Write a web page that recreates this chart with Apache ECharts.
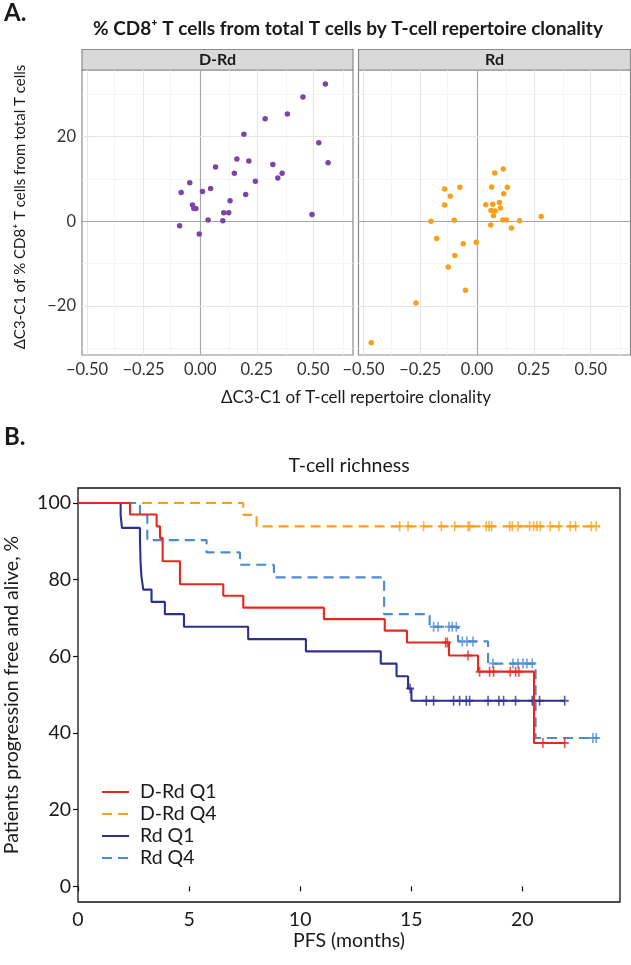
<!DOCTYPE html>
<html>
<head>
<meta charset="utf-8">
<script src="https://cdn.jsdelivr.net/npm/echarts@6/dist/echarts.min.js"></script>
<style>
html,body{margin:0;padding:0;background:#fff;}
#chart{width:631px;height:965px;}
</style>
</head>
<body>
<div id="chart"></div>
<script>
// ---------- Panel A data ----------
const facetNames = ['D-Rd', 'Rd'];
const dRdX = [0.553, 0.454, 0.385, 0.287, 0.193, 0.524, 0.565, 0.162, 0.215, 0.321, 0.068, 0.151, 0.362, 0.343, -0.046, 0.244, 0.046, -0.084, 0.010, 0.201, 0.132, -0.034, -0.028, -0.019, 0.104, 0.126, 0.494, 0.035, 0.100, -0.091, -0.004];
const dRdY = [32.4, 29.3, 25.3, 24.2, 20.5, 18.5, 13.8, 14.7, 14.2, 13.4, 12.8, 11.3, 11.3, 10.2, 9.1, 9.4, 7.7, 6.8, 7.0, 6.3, 4.8, 3.8, 3.0, 3.0, 2.0, 2.0, 1.6, 0.3, 0.1, -1.1, -3.0];
const rdX = [0.115, 0.077, -0.076, -0.143, 0.064, 0.133, 0.117, -0.118, 0.098, 0.038, 0.069, -0.143, 0.102, 0.061, 0.079, 0.072, 0.282, 0.113, 0.129, -0.203, -0.101, 0.187, 0.060, 0.151, -0.178, -0.004, -0.061, -0.098, -0.127, -0.051, -0.269, -0.466];
const rdY = [12.3, 11.4, 8.0, 7.6, 8.1, 8.0, 6.5, 5.9, 4.4, 3.9, 4.0, 3.8, 3.1, 2.5, 2.4, 1.3, 1.1, 0.3, 0.3, 0.0, 0.2, 0.1, -0.9, -1.6, -4.1, -5.0, -5.3, -8.1, -10.8, -16.3, -19.3, -28.7];
const aXTicks = [-0.5, -0.25, 0, 0.25, 0.5];
const aXMinor = [-0.375, -0.125, 0.125, 0.375, 0.625];
const aYTicks = [-20, 0, 20];
const aYMinor = [-30, -10, 10, 30];

// ---------- Panel B data (Kaplan-Meier) ----------
const kmNames = ['D-Rd Q1', 'D-Rd Q4', 'Rd Q1', 'Rd Q4'];
const drdQ1T = [0, 2.34, 3.54, 3.69, 3.81, 4.59, 6.54, 7.44, 11.07, 13.81, 14.81, 16.70, 18.01, 20.53, 21.91];
const drdQ1S = [100, 97.0, 93.9, 90.9, 84.8, 78.8, 75.8, 72.7, 69.7, 66.7, 63.6, 60.2, 56.0, 37.4, 37.4];
const drdQ1C = [16.55, 16.63, 17.56, 18.08, 18.53, 18.71, 19.46, 19.70, 19.85, 20.93, 21.91];
const drdQ4T = [0, 7.44, 8.04, 23.5];
const drdQ4S = [100, 96.9, 93.9, 93.9];
const drdQ4C = [14.48, 14.86, 15.56, 16.36, 16.96, 17.56, 17.63, 18.38, 18.50, 18.62, 19.43, 19.55, 19.81, 20.33, 20.51, 20.66, 20.81, 21.26, 21.65, 22.16, 22.40, 23.11, 23.33];
const rdQ1T = [0, 1.92, 1.98, 2.79, 2.82, 2.86, 2.94, 3.31, 3.91, 4.77, 7.66, 10.26, 13.63, 14.34, 14.86, 15.01, 21.91];
const rdQ1S = [100, 96.8, 93.5, 90.3, 83.9, 80.6, 77.4, 74.2, 71.0, 67.7, 64.5, 61.3, 58.1, 54.8, 51.6, 48.4, 48.4];
const rdQ1C = [14.95, 15.68, 16.01, 16.91, 17.18, 17.48, 17.63, 18.46, 18.95, 19.16, 19.70, 20.45, 20.78, 21.91];
const rdQ4T = [0, 2.79, 3.12, 5.79, 7.29, 8.82, 13.78, 15.83, 17.11, 18.46, 20.60, 23.4];
const rdQ4S = [100, 96.8, 90.3, 87.1, 83.9, 80.6, 71.0, 67.7, 63.9, 58.1, 38.7, 38.7];
const rdQ4C = [16.01, 16.21, 16.70, 16.85, 17.03, 17.30, 17.51, 17.78, 18.68, 19.58, 19.81, 20.03, 20.21, 20.45, 23.18, 23.33];
const kmXTicks = [0, 5, 10, 15, 20];
const kmYTicks = [0, 20, 40, 60, 80, 100];

const kmT = [drdQ1T, drdQ4T, rdQ1T, rdQ4T];
const kmS = [drdQ1S, drdQ4S, rdQ1S, rdQ4S];
const kmC = [drdQ1C, drdQ4C, rdQ1C, rdQ4C];
const kmColors = ['#e8281e', '#f7a01c', '#2e2f8f', '#4a8ad4'];
const kmDashed = [false, true, false, true];
const ptColors = ['#7b45a6', '#f7a01c'];

function stepAt(T, S, t) {
  let v = S[0];
  for (let i = 0; i < T.length; i++) { if (T[i] <= t) v = S[i]; }
  return v;
}
const minus = s => String(s).replace('-', '\u2212');
const FONT = 'Lato, "Noto Sans", sans-serif';

const chart = echarts.init(document.getElementById('chart'), null, {renderer: 'canvas'});

const aGrids = [
  {left: 82, top: 70, width: 271, height: 285},
  {left: 358.5, top: 70, width: 272, height: 285}
];
const grids = aGrids.map(g => Object.assign({show: true, borderColor: '#8a8a8a', borderWidth: 1.2, backgroundColor: '#fff'}, g));
grids.push({left: 78, top: 488, width: 542, height: 414, show: true, borderColor: '#111', borderWidth: 1.3, backgroundColor: 'rgba(0,0,0,0)'});

const xAxes = [], yAxes = [];
for (let i = 0; i < 2; i++) {
  xAxes.push({
    type: 'value', gridIndex: i, min: -0.522, max: 0.675,
    axisLine: {show: false}, splitLine: {show: false},
    axisTick: {show: true, customValues: aXTicks, length: 4, lineStyle: {color: '#444'}},
    axisLabel: {show: true, customValues: aXTicks, margin: 6, color: '#333', fontSize: 16.5, fontFamily: FONT,
      formatter: v => minus(v.toFixed(2))}
  });
  yAxes.push({
    type: 'value', gridIndex: i, min: -31.6, max: 35.7,
    axisLine: {show: false}, splitLine: {show: false},
    axisTick: {show: i === 0, customValues: aYTicks, length: 4, lineStyle: {color: '#444'}},
    axisLabel: {show: i === 0, customValues: aYTicks, margin: 6, color: '#333', fontSize: 16.5, fontFamily: FONT,
      formatter: v => minus(v)}
  });
}
xAxes.push({
  type: 'value', gridIndex: 2, min: 0, max: 24.4,
  axisLine: {show: false}, splitLine: {show: false},
  axisTick: {show: true, customValues: kmXTicks, length: 5, lineStyle: {color: '#111', width: 1.2}},
  axisLabel: {show: true, customValues: kmXTicks, margin: 8, color: '#1a1a1a', fontSize: 19.5, fontFamily: FONT}
});
yAxes.push({
  type: 'value', gridIndex: 2, min: -4.07, max: 103.9,
  axisLine: {show: false}, splitLine: {show: false},
  axisTick: {show: true, customValues: kmYTicks, length: 5, lineStyle: {color: '#111', width: 1.2}},
  axisLabel: {show: true, customValues: kmYTicks, margin: 7, color: '#1a1a1a', fontSize: 19.5, fontFamily: FONT}
});

const series = [];
// gridlines for panel A
for (let i = 0; i < 2; i++) {
  const ml = [];
  aXMinor.forEach(v => ml.push({xAxis: v, lineStyle: {color: '#f3f3f3', width: 0.8, type: 'solid'}}));
  aYMinor.forEach(v => ml.push({yAxis: v, lineStyle: {color: '#f3f3f3', width: 0.8, type: 'solid'}}));
  aXTicks.forEach(v => ml.push({xAxis: v, lineStyle: {color: v === 0 ? '#a8a8a8' : '#e6e6e6', width: v === 0 ? 1.2 : 1.1, type: 'solid'}}));
  aYTicks.forEach(v => ml.push({yAxis: v, lineStyle: {color: v === 0 ? '#a8a8a8' : '#e6e6e6', width: v === 0 ? 1.2 : 1.1, type: 'solid'}}));
  series.push({
    type: 'line', xAxisIndex: i, yAxisIndex: i, data: [], z: 1, silent: true,
    markLine: {silent: true, symbol: ['none', 'none'], label: {show: false}, animation: false, data: ml}
  });
}
// scatter points
const ptsX = [dRdX, rdX], ptsY = [dRdY, rdY];
for (let i = 0; i < 2; i++) {
  series.push({
    type: 'scatter', name: facetNames[i], xAxisIndex: i, yAxisIndex: i, z: 5,
    symbolSize: 5.5, itemStyle: {color: ptColors[i], opacity: 1},
    data: ptsX[i].map((x, k) => [x, ptsY[i][k]])
  });
}
// KM curves
const plusPath = 'path://M4,0H6V4H10V6H6V10H4V6H0V4H4Z';
for (let i = 0; i < 4; i++) {
  series.push({
    type: 'line', name: kmNames[i], xAxisIndex: 2, yAxisIndex: 2, step: 'end', showSymbol: false, symbol: 'none',
    z: 4 + (i === 0 ? 2 : 0),
    lineStyle: {color: kmColors[i], width: 2.1, type: kmDashed[i] ? [10, 6] : 'solid'},
    itemStyle: {color: kmColors[i]},
    data: kmT[i].map((t, k) => [t, kmS[i][k]])
  });
  series.push({
    type: 'scatter', name: kmNames[i] + ' censored', xAxisIndex: 2, yAxisIndex: 2, z: 4 + (i === 0 ? 2 : 0),
    symbol: plusPath, symbolSize: [8, 10],
    itemStyle: {color: kmColors[i]},
    data: kmC[i].map(t => [t, stepAt(kmT[i], kmS[i], t)])
  });
}

const txt = (text, x, y, font, extra, align) => Object.assign({
  type: 'text', x: x, y: y, silent: true,
  style: {text: text, font: font, fill: '#1a1a1a', align: align || 'center', verticalAlign: 'middle'}
}, extra || {});

const graphics = [
  txt('A.', 4, 13, 'bold 24px ' + FONT, null, 'left'),
  txt('% CD8\u207A T cells from total T cells by T-cell repertoire clonality', 348, 29, 'bold 19px ' + FONT),
  {type: 'rect', silent: true, shape: {x: 82, y: 49.5, width: 271, height: 20.5}, style: {fill: '#d9d9d9', stroke: '#8a8a8a', lineWidth: 1.2}},
  {type: 'rect', silent: true, shape: {x: 358.5, y: 49.5, width: 272, height: 20.5}, style: {fill: '#d9d9d9', stroke: '#8a8a8a', lineWidth: 1.2}},
  txt(facetNames[0], 217.5, 60, 'bold 16px ' + FONT),
  txt(facetNames[1], 494.5, 60, 'bold 16px ' + FONT),
  txt('\u0394C3-C1 of % CD8\u207A T cells from total T cells', 20, 207, '15px ' + FONT, {rotation: Math.PI / 2}),
  txt('\u0394C3-C1 of T-cell repertoire clonality', 356, 398, '17px ' + FONT),
  txt('B.', 4, 437, 'bold 24px ' + FONT, null, 'left'),
  txt('T-cell richness', 349, 466, '19.5px ' + FONT),
  txt('Patients progression free and alive, %', 12, 695, '19.5px ' + FONT, {rotation: Math.PI / 2}),
  txt('PFS (months)', 349, 941, '19.5px ' + FONT)
];

chart.setOption({
  animation: false,
  backgroundColor: '#fff',
  grid: grids,
  xAxis: xAxes,
  yAxis: yAxes,
  legend: {
    data: kmNames, orient: 'vertical', left: 96, top: 777, itemGap: 2,
    itemWidth: 27, itemHeight: 14, selectedMode: false,
    itemStyle: {opacity: 0, borderWidth: 0},
    textStyle: {fontSize: 19.5, fontFamily: FONT, color: '#1a1a1a', lineHeight: 18.5, padding: [0, 0, 0, 6]}
  },
  series: series,
  graphic: graphics
});
</script>
</body>
</html>
